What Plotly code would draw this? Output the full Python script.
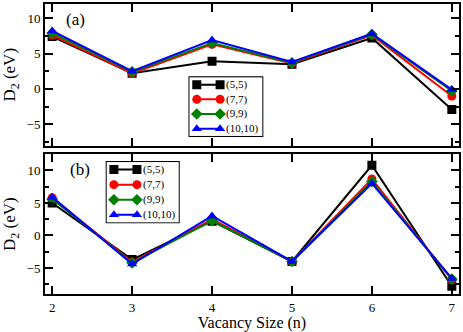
import plotly.graph_objects as go

vacancy = [2, 3, 4, 5, 6, 7]
names = ["(5,5)", "(7,7)", "(9,9)", "(10,10)"]

# panel (a)
a_55 = [7.4, 2.2, 3.9, 3.5, 7.2, -2.9]
a_77 = [7.6, 2.2, 6.3, 3.6, 7.6, -1.0]
a_99 = [7.9, 2.4, 6.5, 3.7, 7.7, -0.3]
a_1010 = [8.2, 2.5, 6.9, 3.8, 7.8, -0.1]

# panel (b)
b_55 = [5.0, -3.7, 2.2, -4.0, 10.8, -7.8]
b_77 = [5.8, -4.1, 2.5, -4.0, 8.7, -6.8]
b_99 = [5.6, -4.2, 2.3, -4.0, 8.3, -6.7]
b_1010 = [5.9, -4.4, 3.0, -4.0, 8.0, -6.6]

colors = ["black", "red", "green", "blue"]
symbols = ["square", "circle", "diamond", "triangle-up"]
font = "Liberation Serif, Times New Roman, serif"

fig = go.Figure()
for i, ys in enumerate([a_55, a_77, a_99, a_1010]):
    fig.add_trace(go.Scatter(
        x=vacancy, y=ys, mode="lines+markers", name=names[i], showlegend=False,
        line=dict(color=colors[i], width=2),
        marker=dict(color=colors[i], symbol=symbols[i], size=9),
        xaxis="x", yaxis="y",
    ))
for i, ys in enumerate([b_55, b_77, b_99, b_1010]):
    fig.add_trace(go.Scatter(
        x=vacancy, y=ys, mode="lines+markers", name=names[i], showlegend=False,
        line=dict(color=colors[i], width=2),
        marker=dict(color=colors[i], symbol=symbols[i], size=9),
        xaxis="x2", yaxis="y2",
    ))

# hand-made legends (markers at both ends of the key line, like the original)
legend_boxes = {"x3": ([0.349, 0.525], [0.545, 0.747]),
                "x4": ([0.149, 0.323], [0.247, 0.455])}
annotations = []
shapes = []
for ax, (xd, yd) in legend_boxes.items():
    ya = ax.replace("x", "y")
    for i, nm in enumerate(names):
        row = 3.5 - i
        fig.add_trace(go.Scatter(
            x=[0.1, 0.42], y=[row, row], mode="lines+markers", showlegend=False,
            line=dict(color=colors[i], width=2),
            marker=dict(color=colors[i], symbol=symbols[i], size=9),
            xaxis=ax, yaxis=ya, hoverinfo="skip",
        ))
        annotations.append(dict(text=nm, x=0.47, y=row, xref=ax, yref=ya,
                                xanchor="left", yanchor="middle", showarrow=False,
                                font=dict(family=font, size=11, color="black")))
    shapes.append(dict(type="rect", xref=ax + " domain", yref=ya + " domain",
                       x0=0, x1=1, y0=0, y1=1, layer="below",
                       line=dict(color="black", width=2), fillcolor="white"))

axis_common = dict(
    showline=True, linewidth=2, linecolor="black", mirror="allticks",
    ticks="inside", ticklen=8, tickwidth=2, tickcolor="black",
    showgrid=False, zeroline=False,
    tickfont=dict(family=font, size=13, color="black"),
)
hidden = dict(visible=False, range=[0, 1], fixedrange=True)
hidden_y = dict(visible=False, range=[0, 4], fixedrange=True)

annotations += [
    dict(text="(a)", x=0.045, y=0.985, xref="paper", yref="paper",
         xanchor="left", yanchor="top", showarrow=False,
         font=dict(family=font, size=17, color="black")),
    dict(text="(b)", x=0.055, y=0.47, xref="paper", yref="paper",
         xanchor="left", yanchor="top", showarrow=False,
         font=dict(family=font, size=17, color="black")),
]

fig.update_layout(
    width=463, height=332,
    margin=dict(l=45, r=3, t=2, b=38),
    plot_bgcolor="white", paper_bgcolor="white",
    font=dict(family=font, color="black"),
    showlegend=False,
    xaxis=dict(axis_common, domain=[0, 1], range=[1.91, 7.09], dtick=1,
               anchor="y", showticklabels=False),
    yaxis=dict(axis_common, domain=[0.512, 1], range=[-8, 12], dtick=5,
               anchor="x",
               minor=dict(ticks="inside", dtick=2.5, ticklen=4, tickcolor="black"),
               title=dict(text="D<sub>2</sub> (eV)", standoff=7,
                          font=dict(family=font, size=17, color="black"))),
    xaxis2=dict(axis_common, domain=[0, 1], range=[1.91, 7.09], dtick=1,
                anchor="y2",
                title=dict(text="Vacancy Size (n)", standoff=4,
                           font=dict(family=font, size=16, color="black"))),
    yaxis2=dict(axis_common, domain=[0, 0.482], range=[-9, 12.5], dtick=5,
                anchor="x2",
                minor=dict(ticks="inside", dtick=2.5, ticklen=4, tickcolor="black"),
                title=dict(text="D<sub>2</sub> (eV)", standoff=7,
                           font=dict(family=font, size=17, color="black"))),
    xaxis3=dict(hidden, domain=legend_boxes["x3"][0], anchor="y3"),
    yaxis3=dict(hidden_y, domain=legend_boxes["x3"][1], anchor="x3"),
    xaxis4=dict(hidden, domain=legend_boxes["x4"][0], anchor="y4"),
    yaxis4=dict(hidden_y, domain=legend_boxes["x4"][1], anchor="x4"),
    annotations=annotations,
    shapes=shapes,
)

fig.write_html("out.html", config={"displayModeBar": False},
               post_script="document.body.style.margin='0px';")
